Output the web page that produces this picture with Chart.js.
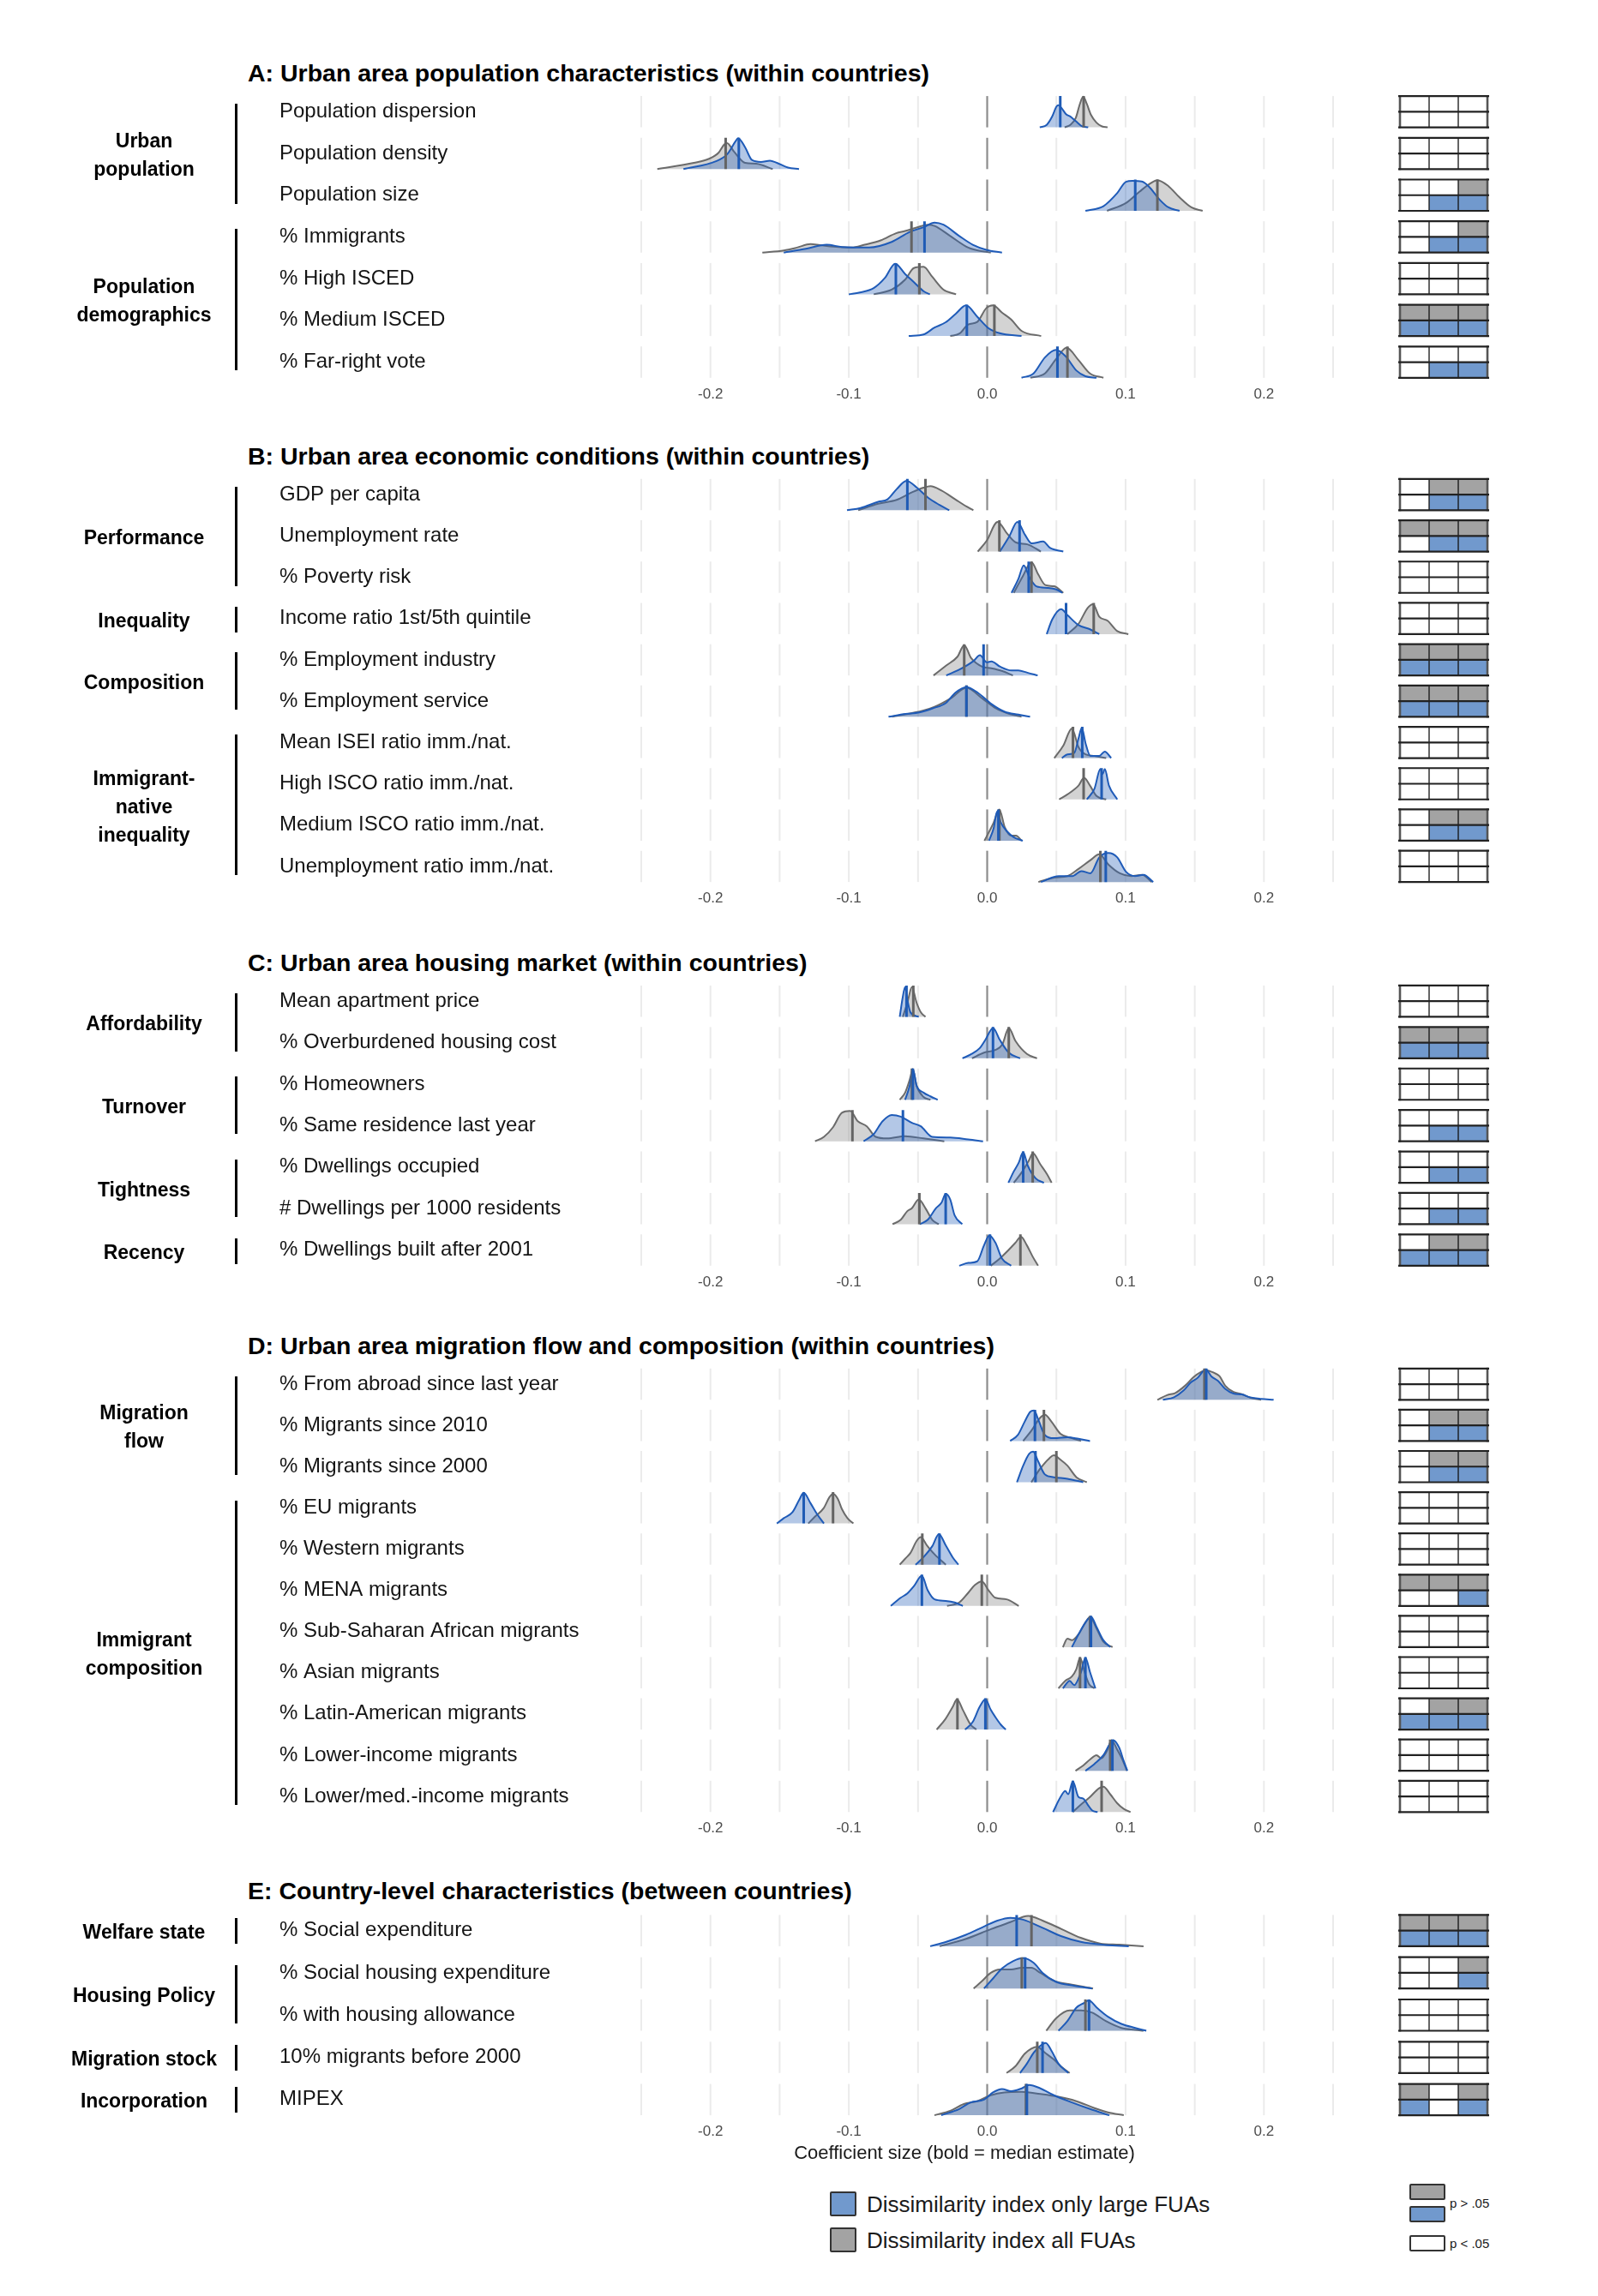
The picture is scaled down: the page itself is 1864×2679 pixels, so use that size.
<!DOCTYPE html>
<html>
<head>
<meta charset="utf-8">
<script src="https://cdn.jsdelivr.net/npm/chart.js@4.4.1/dist/chart.umd.min.js"></script>
<style>
  body { margin: 0; background: #fff; font-family: "Liberation Sans", Arial, Helvetica, sans-serif; color: #000; }
  #page { position: relative; width: 1864px; height: 2679px; overflow: hidden; }
  canvas { position: absolute; left: 0; }
  .title { position: absolute; left: 289px; font-weight: bold; font-size: 28.5px; white-space: nowrap; transform: translateY(-50%); }
  .grp { position: absolute; left: 58px; width: 220px; text-align: center; font-weight: bold; font-size: 23px; line-height: 33px; transform: translateY(-50%); }
  .bar { position: absolute; left: 274px; width: 3px; background: #000; }
  .axtitle { position: absolute; left: 1125px; top: 2512px; transform: translate(-50%, -50%); font-size: 22px; white-space: nowrap; color: #1a1a1a; }
  .lg { position: absolute; font-size: 26px; white-space: nowrap; transform: translateY(-50%); color: #1a1a1a; }
  .sw { position: absolute; box-sizing: border-box; border: 2px solid #333; border-radius: 2px; }
  .pl { position: absolute; font-size: 15px; white-space: nowrap; transform: translateY(-50%); color: #1a1a1a; }
</style>
</head>
<body>
<div id="page"></div>
<script>
// ---------- data ----------
// each curve: [coefficient, relative density height]
const labelsA = ['Population dispersion', 'Population density', 'Population size', '% Immigrants', '% High ISCED', '% Medium ISCED', '% Far-right vote'];
const blueA = [
  [[0.038,0],[0.043,0.08],[0.047,0.35],[0.050,0.66],[0.0515,0.71],[0.054,0.6],[0.057,0.42],[0.060,0.35],[0.064,0.2],[0.068,0.05],[0.073,0]],
  [[-0.2195,0],[-0.196,0.25],[-0.188,0.47],[-0.182,0.88],[-0.18,0.99],[-0.175,0.7],[-0.17,0.29],[-0.1635,0.23],[-0.157,0.27],[-0.152,0.2],[-0.144,0.05],[-0.136,0]],
  [[0.071,0],[0.084,0.15],[0.0938,0.56],[0.1003,0.93],[0.105,0.96],[0.1117,0.94],[0.1166,0.79],[0.125,0.34],[0.131,0.11],[0.139,0]],
  [[-0.147,0],[-0.131,0.12],[-0.116,0.25],[-0.105,0.18],[-0.0853,0.16],[-0.069,0.34],[-0.056,0.66],[-0.046,0.81],[-0.038,0.96],[-0.0316,0.89],[-0.0202,0.53],[-0.0104,0.25],[-0.0007,0.09],[0.0107,0]],
  [[-0.1,0],[-0.092,0.06],[-0.082,0.2],[-0.074,0.52],[-0.0665,0.98],[-0.0593,0.65],[-0.0528,0.38],[-0.046,0.1],[-0.0414,0]],
  [[-0.0567,0],[-0.046,0.05],[-0.038,0.27],[-0.03,0.44],[-0.0228,0.71],[-0.0153,0.98],[-0.0072,0.62],[0.001,0.25],[0.009,0.09],[0.0248,0]],
  [[0.0248,0],[0.0335,0.14],[0.0417,0.65],[0.0498,0.89],[0.0564,0.7],[0.0645,0.23],[0.071,0.05],[0.079,0]]
];
const grayA = [
  [[0.056,0],[0.060,0.08],[0.064,0.3],[0.067,0.75],[0.0694,0.98],[0.072,0.75],[0.075,0.4],[0.079,0.15],[0.083,0.03],[0.087,0]],
  [[-0.2384,0],[-0.212,0.2],[-0.201,0.33],[-0.194,0.53],[-0.19,0.79],[-0.188,0.83],[-0.183,0.56],[-0.175,0.2],[-0.167,0.17],[-0.155,0]],
  [[0.0866,0],[0.1003,0.25],[0.11,0.61],[0.118,0.88],[0.123,0.98],[0.131,0.79],[0.139,0.43],[0.1476,0.11],[0.1557,0]],
  [[-0.1625,0],[-0.147,0.07],[-0.1375,0.16],[-0.1277,0.27],[-0.121,0.24],[-0.111,0.19],[-0.098,0.16],[-0.0886,0.25],[-0.077,0.39],[-0.0658,0.62],[-0.0593,0.69],[-0.051,0.8],[-0.043,0.89],[-0.038,0.85],[-0.0267,0.53],[-0.0137,0.16],[-0.0023,0.03],[0.0026,0]],
  [[-0.082,0],[-0.069,0.15],[-0.0593,0.47],[-0.053,0.84],[-0.046,0.88],[-0.0397,0.56],[-0.0316,0.15],[-0.0225,0]],
  [[-0.0267,0],[-0.02,0.08],[-0.0137,0.37],[-0.0072,0.45],[-0.0007,0.89],[0.0042,0.98],[0.0107,0.75],[0.0173,0.53],[0.025,0.16],[0.039,0]],
  [[0.0313,0],[0.0417,0.14],[0.0498,0.6],[0.0573,0.96],[0.0661,0.56],[0.0743,0.14],[0.084,0]]
];
const medBlueA = [0.0528, -0.1795, 0.107, -0.0453, -0.066, -0.0147, 0.0508];
const medGrayA = [0.0697, -0.189, 0.123, -0.0547, -0.049, 0.0052, 0.058];
const sigGrayA = ['000', '000', '001', '001', '000', '111', '000'];
const sigBlueA = ['000', '000', '011', '011', '000', '111', '011'];
const groupsA = [[['Urban', 'population'], 0, 2], [['Population', 'demographics'], 3, 6]];

const labelsB = ['GDP per capita', 'Unemployment rate', '% Poverty risk', 'Income ratio 1st/5th quintile', '% Employment industry', '% Employment service', 'Mean ISEI ratio imm./nat.', 'High ISCO ratio imm./nat.', 'Medium ISCO ratio imm./nat.', 'Unemployment ratio imm./nat.'];
const blueB = [
  [[-0.1013,0],[-0.0915,0.07],[-0.0788,0.27],[-0.072,0.35],[-0.0655,0.67],[-0.0583,0.94],[-0.0508,0.72],[-0.0427,0.4],[-0.0345,0.17],[-0.0274,0]],
  [[0.0091,0],[0.016,0.49],[0.0218,0.95],[0.0273,0.54],[0.0322,0.26],[0.0404,0.32],[0.0453,0.12],[0.055,0]],
  [[0.0176,0],[0.0225,0.44],[0.0264,0.88],[0.0306,0.49],[0.0355,0.21],[0.0436,0.16],[0.05,0.11],[0.0544,0]],
  [[0.043,0],[0.047,0.47],[0.0534,0.8],[0.058,0.61],[0.066,0.29],[0.0746,0.15],[0.081,0]],
  [[-0.0296,0],[-0.02,0.19],[-0.01,0.46],[-0.0052,0.65],[-0.0003,0.42],[0.003,0.45],[0.0094,0.28],[0.0176,0.16],[0.0225,0.16],[0.029,0.09],[0.0365,0]],
  [[-0.0713,0],[-0.059,0.09],[-0.049,0.14],[-0.0394,0.27],[-0.0296,0.45],[-0.023,0.77],[-0.015,0.95],[-0.0068,0.77],[0.003,0.41],[0.0127,0.16],[0.0225,0.07],[0.031,0]],
  [[0.054,0],[0.058,0.12],[0.063,0.17],[0.066,0.63],[0.0684,0.97],[0.071,0.49],[0.0746,0.07],[0.081,0.07],[0.085,0.21],[0.0896,0]],
  [[0.072,0],[0.0775,0.34],[0.0818,0.97],[0.0834,0.81],[0.085,0.97],[0.088,0.44],[0.094,0]],
  [[0.0013,0],[0.0046,0.39],[0.0072,0.94],[0.01,0.57],[0.0143,0.3],[0.0192,0.11],[0.0257,0]],
  [[0.0388,0],[0.0518,0.19],[0.0616,0.19],[0.068,0.35],[0.0746,0.28],[0.081,0.79],[0.0876,0.93],[0.094,0.79],[0.1003,0.33],[0.1068,0.19],[0.113,0.23],[0.12,0]]
];
const grayB = [
  [[-0.0932,0],[-0.0788,0.21],[-0.0655,0.33],[-0.054,0.58],[-0.046,0.72],[-0.041,0.77],[-0.033,0.63],[-0.0231,0.35],[-0.015,0.12],[-0.01,0]],
  [[-0.0068,0],[-0.0003,0.35],[0.0075,0.95],[0.0143,0.58],[0.0208,0.29],[0.029,0.23],[0.0388,0]],
  [[0.0192,0],[0.0257,0.53],[0.032,0.98],[0.037,0.58],[0.042,0.25],[0.0485,0.21],[0.055,0]],
  [[0.058,0],[0.066,0.33],[0.0726,0.84],[0.0765,0.96],[0.081,0.56],[0.087,0.43],[0.094,0.1],[0.102,0]],
  [[-0.0388,0],[-0.0296,0.32],[-0.0215,0.6],[-0.0166,0.97],[-0.0117,0.56],[-0.0036,0.28],[0.003,0.23],[0.011,0.14],[0.0186,0]],
  [[-0.0687,0],[-0.046,0.2],[-0.038,0.32],[-0.0264,0.59],[-0.015,0.93],[-0.0036,0.59],[0.0062,0.27],[0.016,0.09],[0.0248,0]],
  [[0.0485,0],[0.055,0.4],[0.0612,0.95],[0.066,0.35],[0.071,0.12],[0.0775,0.07],[0.086,0]],
  [[0.052,0],[0.058,0.16],[0.066,0.44],[0.07,0.69],[0.0743,0.44],[0.079,0.11],[0.086,0]],
  [[-0.002,0],[0.0046,0.57],[0.0088,1.0],[0.0127,0.43],[0.0176,0.16],[0.0208,0.16],[0.025,0]],
  [[0.037,0],[0.0485,0.14],[0.058,0.19],[0.066,0.42],[0.0746,0.7],[0.081,0.89],[0.0876,0.56],[0.0958,0.28],[0.104,0.19],[0.112,0.23],[0.119,0]]
];
const medBlueB = [-0.0577, 0.0234, 0.03, 0.057, -0.0026, -0.015, 0.0687, 0.0827, 0.0081, 0.0857];
const medGrayB = [-0.0446, 0.0088, 0.032, 0.077, -0.0166, -0.015, 0.062, 0.0697, 0.0088, 0.0818];
const sigGrayB = ['011', '111', '000', '000', '111', '111', '000', '000', '011', '000'];
const sigBlueB = ['011', '011', '000', '000', '111', '111', '000', '000', '011', '000'];
const groupsB = [[['Performance'], 0, 2], [['Inequality'], 3, 3], [['Composition'], 4, 5], [['Immigrant-', 'native', 'inequality'], 6, 9]];

const labelsC = ['Mean apartment price', '% Overburdened housing cost', '% Homeowners', '% Same residence last year', '% Dwellings occupied', '# Dwellings per 1000 residents', '% Dwellings built after 2001'];
const blueC = [
  [[-0.0632,0],[-0.061,0.64],[-0.0593,0.95],[-0.0577,0.55],[-0.0554,0.14],[-0.0495,0]],
  [[-0.0179,0],[-0.012,0.12],[-0.0055,0.32],[-0.0013,0.59],[0.0042,0.97],[0.0091,0.59],[0.0156,0.18],[0.0238,0]],
  [[-0.0593,0],[-0.056,0.45],[-0.0537,0.98],[-0.051,0.45],[-0.046,0.23],[-0.041,0.11],[-0.0358,0]],
  [[-0.0893,0],[-0.082,0.23],[-0.0756,0.64],[-0.069,0.84],[-0.0625,0.79],[-0.0544,0.59],[-0.048,0.48],[-0.0397,0.14],[-0.0267,0.12],[-0.0137,0.06],[-0.003,0]],
  [[0.0153,0],[0.0192,0.36],[0.0228,0.64],[0.026,0.98],[0.0293,0.55],[0.035,0.14],[0.041,0]],
  [[-0.0489,0],[-0.043,0.14],[-0.0371,0.51],[-0.033,0.69],[-0.03,0.97],[-0.0267,0.79],[-0.0235,0.28],[-0.018,0]],
  [[-0.0202,0],[-0.0137,0.09],[-0.0072,0.14],[-0.0023,0.65],[0.0016,0.97],[0.0059,0.74],[0.0107,0.23],[0.0173,0]]
];
const grayC = [
  [[-0.061,0],[-0.0577,0.45],[-0.0544,0.95],[-0.051,0.45],[-0.0479,0.14],[-0.0446,0]],
  [[-0.011,0],[-0.0023,0.18],[0.0062,0.27],[0.011,0.45],[0.0156,0.97],[0.0205,0.55],[0.0287,0.14],[0.036,0]],
  [[-0.0632,0],[-0.0593,0.23],[-0.056,0.64],[-0.0537,0.98],[-0.051,0.45],[-0.046,0.09],[-0.041,0]],
  [[-0.1244,0],[-0.118,0.14],[-0.1114,0.45],[-0.105,0.91],[-0.099,0.97],[-0.0935,0.64],[-0.087,0.48],[-0.0805,0.14],[-0.0723,0.09],[-0.0593,0.16],[-0.046,0.09],[-0.031,0]],
  [[0.0192,0],[0.0254,0.36],[0.0303,0.73],[0.033,0.95],[0.0384,0.59],[0.0433,0.27],[0.0466,0]],
  [[-0.0684,0],[-0.0625,0.14],[-0.0577,0.42],[-0.0544,0.51],[-0.0495,0.79],[-0.0446,0.51],[-0.0397,0.14],[-0.035,0]],
  [[0.0026,0],[0.0091,0.23],[0.0156,0.51],[0.0205,0.74],[0.0244,0.93],[0.0287,0.65],[0.033,0.28],[0.0368,0]]
];
const medBlueC = [-0.0583, 0.0042, -0.0537, -0.0609, 0.026, -0.03, 0.002];
const medGrayC = [-0.0534, 0.0156, -0.0544, -0.0974, 0.0329, -0.049, 0.024];
const sigGrayC = ['000', '111', '000', '000', '000', '000', '011'];
const sigBlueC = ['000', '111', '000', '011', '011', '011', '111'];
const groupsC = [[['Affordability'], 0, 1], [['Turnover'], 2, 3], [['Tightness'], 4, 5], [['Recency'], 6, 6]];

const labelsD = ['% From abroad since last year', '% Migrants since 2010', '% Migrants since 2000', '% EU migrants', '% Western migrants', '% MENA migrants', '% Sub-Saharan African migrants', '% Asian migrants', '% Latin-American migrants', '% Lower-income migrants', '% Lower/med.-income migrants'];
const blueD = [
  [[0.127,0],[0.135,0.08],[0.142,0.3],[0.147,0.55],[0.152,0.7],[0.158,0.97],[0.162,0.75],[0.167,0.6],[0.172,0.35],[0.178,0.2],[0.184,0.17],[0.19,0.08],[0.198,0.03],[0.207,0]],
  [[0.0166,0],[0.0221,0.19],[0.027,0.61],[0.031,0.93],[0.0339,0.98],[0.0368,0.7],[0.0417,0.19],[0.0482,0.09],[0.058,0.12],[0.066,0.07],[0.0743,0]],
  [[0.0215,0],[0.026,0.53],[0.0303,0.91],[0.0332,0.98],[0.0368,0.67],[0.0417,0.25],[0.0482,0.16],[0.058,0.11],[0.0694,0]],
  [[-0.152,0],[-0.147,0.17],[-0.1407,0.36],[-0.136,0.74],[-0.1326,0.98],[-0.1277,0.65],[-0.1228,0.29],[-0.118,0]],
  [[-0.0518,0],[-0.046,0.24],[-0.0397,0.59],[-0.0349,0.98],[-0.03,0.62],[-0.025,0.24],[-0.0208,0]],
  [[-0.0697,0],[-0.0625,0.26],[-0.0577,0.4],[-0.0528,0.64],[-0.0472,0.97],[-0.043,0.5],[-0.038,0.21],[-0.03,0.16],[-0.0235,0.11],[-0.0176,0]],
  [[0.0612,0],[0.066,0.41],[0.071,0.79],[0.075,0.98],[0.079,0.65],[0.084,0.22],[0.089,0]],
  [[0.0547,0],[0.0596,0.24],[0.0629,0.1],[0.0678,0.52],[0.071,0.98],[0.0743,0.52],[0.0782,0]],
  [[-0.016,0],[-0.0104,0.25],[-0.0055,0.72],[-0.0013,0.97],[0.0026,0.63],[0.0059,0.4],[0.0098,0.16],[0.0134,0]],
  [[0.071,0],[0.0775,0.22],[0.084,0.5],[0.088,0.81],[0.091,0.98],[0.0954,0.74],[0.0987,0.31],[0.1013,0]],
  [[0.0476,0],[0.053,0.48],[0.0564,0.67],[0.0586,0.57],[0.0619,0.98],[0.066,0.48],[0.0694,0.43],[0.0726,0.24],[0.0759,0.05],[0.0798,0]]
];
const grayD = [
  [[0.123,0],[0.13,0.15],[0.136,0.22],[0.143,0.45],[0.149,0.72],[0.155,0.9],[0.158,0.95],[0.164,0.86],[0.168,0.75],[0.172,0.45],[0.178,0.25],[0.184,0.18],[0.19,0.07],[0.198,0]],
  [[0.026,0],[0.0319,0.33],[0.0384,0.75],[0.0417,0.84],[0.0466,0.61],[0.053,0.23],[0.0612,0.09],[0.0678,0]],
  [[0.0319,0],[0.0384,0.44],[0.045,0.77],[0.0482,0.86],[0.053,0.72],[0.058,0.53],[0.0645,0.16],[0.072,0]],
  [[-0.1293,0],[-0.1244,0.22],[-0.118,0.5],[-0.114,0.84],[-0.1114,0.95],[-0.108,0.79],[-0.105,0.46],[-0.101,0.17],[-0.0967,0]],
  [[-0.0632,0],[-0.0593,0.19],[-0.0554,0.38],[-0.051,0.76],[-0.048,0.88],[-0.0436,0.62],[-0.038,0.33],[-0.0299,0]],
  [[-0.029,0],[-0.0202,0.11],[-0.0137,0.42],[-0.0088,0.67],[-0.0039,0.78],[0.001,0.5],[0.0059,0.26],[0.014,0.21],[0.0228,0]],
  [[0.0547,0],[0.058,0.27],[0.0612,0.22],[0.066,0.41],[0.071,0.79],[0.0743,0.96],[0.079,0.6],[0.084,0.17],[0.0906,0]],
  [[0.0515,0],[0.0564,0.24],[0.0612,0.38],[0.0645,0.62],[0.0671,0.98],[0.0704,0.52],[0.0736,0.14],[0.0775,0]],
  [[-0.0365,0],[-0.03,0.35],[-0.025,0.72],[-0.0218,0.97],[-0.0176,0.63],[-0.012,0.16],[-0.0078,0]],
  [[0.0638,0],[0.0694,0.17],[0.0743,0.36],[0.079,0.5],[0.0824,0.4],[0.0866,0.64],[0.0899,0.98],[0.0938,0.69],[0.0977,0.36],[0.101,0]],
  [[0.0619,0],[0.0678,0.24],[0.0743,0.48],[0.0808,0.76],[0.084,0.81],[0.0889,0.57],[0.0938,0.29],[0.0987,0.1],[0.1036,0]]
];
const medBlueD = [0.1583, 0.0345, 0.0349, -0.1326, -0.0345, -0.0472, 0.075, 0.071, -0.0013, 0.0905, 0.0619];
const medGrayD = [0.157, 0.041, 0.05, -0.1114, -0.0469, -0.0039, 0.0743, 0.0671, -0.0215, 0.0889, 0.0827];
const sigGrayD = ['000', '011', '011', '000', '000', '111', '000', '000', '011', '000', '000'];
const sigBlueD = ['000', '011', '011', '000', '000', '001', '000', '000', '111', '000', '000'];
const groupsD = [[['Migration', 'flow'], 0, 2], [['Immigrant', 'composition'], 3, 10]];

const labelsE = ['% Social expenditure', '% Social housing expenditure', '% with housing allowance', '10% migrants before 2000', 'MIPEX'];
const blueE = [
  [[-0.0412,0],[-0.0296,0.14],[-0.0157,0.36],[-0.0019,0.64],[0.0074,0.82],[0.0167,0.91],[0.026,0.85],[0.04,0.59],[0.0537,0.32],[0.0676,0.14],[0.0861,0.04],[0.1023,0]],
  [[-0.0023,0],[0.0042,0.32],[0.0107,0.64],[0.0189,0.88],[0.026,0.97],[0.0336,0.82],[0.04,0.5],[0.0498,0.21],[0.0629,0.09],[0.0759,0]],
  [[0.0515,0],[0.058,0.31],[0.0645,0.74],[0.07,0.89],[0.0733,0.97],[0.0792,0.74],[0.0873,0.45],[0.097,0.22],[0.107,0.09],[0.115,0]],
  [[0.0238,0],[0.0287,0.3],[0.0336,0.65],[0.0384,0.87],[0.0423,0.96],[0.0466,0.7],[0.0515,0.3],[0.0586,0]],
  [[-0.0332,0],[-0.0202,0.2],[-0.012,0.41],[-0.0023,0.5],[0.0042,0.73],[0.0107,0.84],[0.0173,0.77],[0.025,0.86],[0.0303,0.97],[0.0384,0.86],[0.0482,0.64],[0.0612,0.41],[0.0743,0.2],[0.0883,0]]
];
const grayE = [
  [[-0.0343,0],[-0.0157,0.23],[0.0028,0.55],[0.0167,0.77],[0.0296,0.97],[0.04,0.82],[0.0537,0.55],[0.0676,0.27],[0.0815,0.09],[0.0954,0.05],[0.113,0]],
  [[-0.0098,0],[-0.0039,0.23],[0.0026,0.5],[0.0091,0.61],[0.0173,0.61],[0.025,0.66],[0.0319,0.66],[0.0384,0.5],[0.0482,0.25],[0.0612,0.12],[0.0765,0]],
  [[0.0427,0],[0.0498,0.4],[0.0596,0.65],[0.0678,0.65],[0.0759,0.58],[0.0857,0.31],[0.097,0.09],[0.107,0.03],[0.113,0]],
  [[0.014,0],[0.0205,0.22],[0.027,0.61],[0.0319,0.78],[0.0362,0.84],[0.0417,0.65],[0.0482,0.43],[0.053,0.22],[0.0596,0]],
  [[-0.0381,0],[-0.0267,0.14],[-0.0169,0.36],[-0.0072,0.45],[0.0026,0.64],[0.0124,0.73],[0.025,0.75],[0.0384,0.68],[0.0515,0.59],[0.0645,0.45],[0.0775,0.23],[0.0873,0.09],[0.0987,0]]
];
const medBlueE = [0.0213, 0.0274, 0.0736, 0.04, 0.0287];
const medGrayE = [0.032, 0.025, 0.071, 0.0362, 0.028];
const sigGrayE = ['111', '001', '000', '000', '101'];
const sigBlueE = ['111', '001', '000', '000', '101'];
const groupsE = [[['Welfare state'], 0, 0], [['Housing Policy'], 1, 2], [['Migration stock'], 3, 3], [['Incorporation'], 4, 4]];

const xTicks = [-0.2, -0.1, 0, 0.1, 0.2];

// ---------- layout / style ----------
const FONT = '"Liberation Sans", Arial, Helvetica, sans-serif';
Chart.defaults.font.family = FONT;

const X_MIN = -0.25, X_MAX = 0.3615;     // plot area 748..1735 px, data range -0.25..0.25 then sig grid
const SIG_X0 = 0.2983, SIG_W = 0.02107;  // sig grid columns in x units
const BAND = 36.5;                        // ridge band height in px
const GRAY_FILL = 'rgba(150,150,150,0.42)', GRAY_LINE = '#6b6b6b';
const BLUE_FILL = 'rgba(45,100,185,0.36)', BLUE_LINE = '#1f5bb8';
const SIG_GRAY = '#a3a3a3', SIG_BLUE = '#7199cd';

const panels = [
  {title: 'A: Urban area population characteristics (within countries)', titleY: 85, top: 112, pitch: 48.7,
   labels: labelsA, blue: blueA, gray: grayA, medB: medBlueA, medG: medGrayA, sigG: sigGrayA, sigB: sigBlueA, groups: groupsA},
  {title: 'B: Urban area economic conditions (within countries)', titleY: 532, top: 559, pitch: 48.2,
   labels: labelsB, blue: blueB, gray: grayB, medB: medBlueB, medG: medGrayB, sigG: sigGrayB, sigB: sigBlueB, groups: groupsB},
  {title: 'C: Urban area housing market (within countries)', titleY: 1123, top: 1150, pitch: 48.4,
   labels: labelsC, blue: blueC, gray: grayC, medB: medBlueC, medG: medGrayC, sigG: sigGrayC, sigB: sigBlueC, groups: groupsC},
  {title: 'D: Urban area migration flow and composition (within countries)', titleY: 1570, top: 1597, pitch: 48.1,
   labels: labelsD, blue: blueD, gray: grayD, medB: medBlueD, medG: medGrayD, sigG: sigGrayD, sigB: sigBlueD, groups: groupsD},
  {title: 'E: Country-level characteristics (between countries)', titleY: 2206, top: 2234, pitch: 49.3,
   labels: labelsE, blue: blueE, gray: grayE, medB: medBlueE, medG: medGrayE, sigG: sigGrayE, sigB: sigBlueE, groups: groupsE}
];

const page = document.getElementById('page');
function add(cls, html, css) {
  const d = document.createElement('div');
  d.className = cls;
  d.innerHTML = html;
  Object.assign(d.style, css);
  page.appendChild(d);
  return d;
}

function makePanel(p) {
  const n = p.labels.length;
  const gap = (p.pitch - BAND) / 2 / p.pitch;   // row units
  const amp = 1 - 2 * gap;
  const H = Math.ceil(n * p.pitch + 40);
  const cv = document.createElement('canvas');
  cv.width = 1864; cv.height = H;
  cv.style.width = '1864px'; cv.style.height = H + 'px';
  cv.style.top = (p.top - gap * p.pitch) + 'px';
  page.appendChild(cv);

  const datasets = [];
  p.labels.forEach((_, i) => {
    const base = i + 1 - gap, top = i + gap;
    const pts = c => c.map(([x, h]) => ({x: x, y: base - h * amp}));
    datasets.push({data: pts(p.gray[i]), fill: {value: base}, backgroundColor: GRAY_FILL, borderColor: GRAY_LINE,
      borderWidth: 2, cubicInterpolationMode: 'monotone', order: 4});
    datasets.push({data: pts(p.blue[i]), fill: {value: base}, backgroundColor: BLUE_FILL, borderColor: BLUE_LINE,
      borderWidth: 2, cubicInterpolationMode: 'monotone', order: 3});
    datasets.push({data: [{x: p.medG[i], y: top}, {x: p.medG[i], y: base}], borderColor: '#646464', borderWidth: 3, fill: false, order: 2});
    datasets.push({data: [{x: p.medB[i], y: top}, {x: p.medB[i], y: base}], borderColor: '#1f5bb5', borderWidth: 3, fill: false, order: 1});
  });

  const rowGrid = {
    id: 'rowGrid',
    beforeDatasetsDraw(chart) {
      const {ctx, scales: {x, y}} = chart;
      ctx.save();
      for (let i = 0; i < n; i++) {
        const y0 = y.getPixelForValue(i + gap), y1 = y.getPixelForValue(i + 1 - gap);
        for (let k = -5; k <= 5; k++) {
          if (k === 0) continue;
          const px = x.getPixelForValue(k / 20);
          ctx.strokeStyle = '#ebebeb'; ctx.lineWidth = 2;
          ctx.beginPath(); ctx.moveTo(px, y0); ctx.lineTo(px, y1); ctx.stroke();
        }
        const z = x.getPixelForValue(0);
        ctx.strokeStyle = '#8c8c8c'; ctx.lineWidth = 2.2;
        ctx.beginPath(); ctx.moveTo(z, y0); ctx.lineTo(z, y1); ctx.stroke();
      }
      ctx.restore();
    },
    afterDatasetsDraw(chart) {
      const {ctx, scales: {x, y}} = chart;
      ctx.save();
      for (let i = 0; i < n; i++) {
        const yT = y.getPixelForValue(i + gap), yM = y.getPixelForValue(i + 0.5), yB = y.getPixelForValue(i + 1 - gap);
        const xs = [0, 1, 2, 3].map(c => x.getPixelForValue(SIG_X0 + c * SIG_W));
        for (let c = 0; c < 3; c++) {
          if (p.sigG[i][c] === '1') { ctx.fillStyle = SIG_GRAY; ctx.fillRect(xs[c], yT, xs[c + 1] - xs[c], yM - yT); }
          if (p.sigB[i][c] === '1') { ctx.fillStyle = SIG_BLUE; ctx.fillRect(xs[c], yM, xs[c + 1] - xs[c], yB - yM); }
        }
        ctx.strokeStyle = '#111'; ctx.lineWidth = 1.3;
        [1, 2].forEach(c => { ctx.beginPath(); ctx.moveTo(xs[c], yT); ctx.lineTo(xs[c], yB); ctx.stroke(); });
        ctx.strokeStyle = '#555'; ctx.lineWidth = 2.6;
        [0, 3].forEach(c => { ctx.beginPath(); ctx.moveTo(xs[c], yT - 1); ctx.lineTo(xs[c], yB + 1); ctx.stroke(); });
        ctx.strokeStyle = '#222'; ctx.lineWidth = 2.2;
        [yT, yM, yB].forEach(yy => { ctx.beginPath(); ctx.moveTo(xs[0] - 2, yy); ctx.lineTo(xs[3] + 2, yy); ctx.stroke(); });
      }
      ctx.restore();
    }
  };

  new Chart(cv, {
    type: 'line',
    data: {datasets: datasets},
    options: {
      responsive: false,
      animation: false,
      devicePixelRatio: 1,
      layout: {padding: {left: 326, right: 1864 - 1735, top: 0, bottom: 0}},
      elements: {point: {radius: 0}, line: {borderCapStyle: 'butt'}},
      plugins: {legend: {display: false}, tooltip: {enabled: false}},
      scales: {
        x: {
          type: 'linear', min: X_MIN, max: X_MAX,
          grid: {display: false, drawTicks: false}, border: {display: false},
          afterBuildTicks: a => { a.ticks = xTicks.map(v => ({value: v})); },
          afterFit: a => { a.height = H - n * p.pitch; a.paddingLeft = 0; a.paddingRight = 0; },
          ticks: {autoSkip: false, maxRotation: 0, padding: 3, color: '#4d4d4d', font: {size: 17},
                  callback: v => Number(v).toFixed(1)}
        },
        y: {
          type: 'linear', min: 0, max: n, reverse: true,
          grid: {display: false, drawTicks: false}, border: {display: false},
          afterBuildTicks: a => { a.ticks = p.labels.map((_, i) => ({value: i + 0.5})); },
          // rows sit inside the band, so no extra edge padding for the first/last label
          afterFit: a => { a.width = 748 - 326; a.paddingTop = 0; a.paddingBottom = 0; },
          ticks: {autoSkip: false, crossAlign: 'far', padding: 0, color: '#141414', font: {size: 24},
                  callback: v => p.labels[Math.floor(v)]}
        }
      }
    },
    plugins: [rowGrid]
  });

  // panel title and group labels
  add('title', p.title, {top: p.titleY + 'px'});
  const centre = i => p.top + i * p.pitch + BAND / 2;
  p.groups.forEach(([lines, a, b]) => {
    const c0 = centre(a), c1 = centre(b);
    const single = a === b;
    add('grp', lines.join('<br>'), {top: ((c0 + c1) / 2 + 2) + 'px'});
    const t = c0 - (single ? 14 : 9), btm = c1 + (single ? 16 : 10);
    add('bar', '', {top: t + 'px', height: (btm - t) + 'px'});
  });
}

panels.forEach(makePanel);

// axis title and legends
add('axtitle', 'Coefficient size (bold = median estimate)', {});
add('sw', '', {left: '968px', top: '2557px', width: '31px', height: '29px', background: SIG_BLUE});
add('sw', '', {left: '968px', top: '2599px', width: '31px', height: '29px', background: SIG_GRAY});
add('lg', 'Dissimilarity index only large FUAs', {left: '1011px', top: '2572px'});
add('lg', 'Dissimilarity index all FUAs', {left: '1011px', top: '2614px'});
add('sw', '', {left: '1644px', top: '2548px', width: '42px', height: '19px', background: SIG_GRAY});
add('sw', '', {left: '1644px', top: '2574px', width: '42px', height: '19px', background: SIG_BLUE});
add('sw', '', {left: '1644px', top: '2608px', width: '42px', height: '19px', background: '#fff'});
add('pl', 'p &gt; .05', {left: '1691px', top: '2570px'});
add('pl', 'p &lt; .05', {left: '1691px', top: '2617px'});
</script>
</body>
</html>
